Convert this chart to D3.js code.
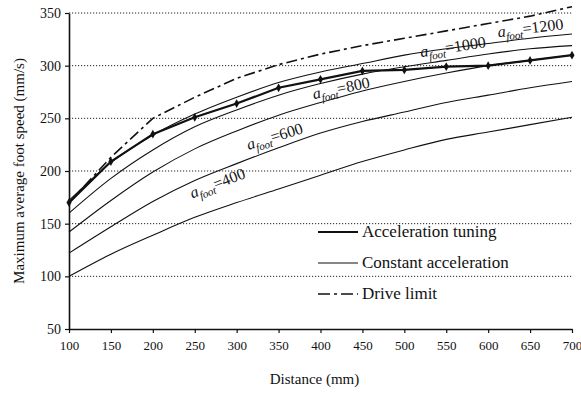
<!DOCTYPE html>
<html>
<head>
<meta charset="utf-8">
<script src="https://cdn.jsdelivr.net/npm/d3@7"></script>
<style>
  body { margin: 0; background: #fff; }
  svg { display: block; }
  svg text { font-family: "Liberation Serif", "Times New Roman", Times, "DejaVu Serif", serif; fill: #111; }
</style>
</head>
<body>
<div id="chart"></div>
<script>
var serif = "'Liberation Serif', 'Times New Roman', Times, 'DejaVu Serif', serif";

// distances (mm) at which the curves were read
var distance = [100, 150, 200, 250, 300, 350, 400, 450, 500, 550, 600, 650, 700];

// acceleration tuning (bold, with markers)
var tuning = [170, 209, 235, 251, 264, 279, 287, 295, 296, 299, 300, 305, 310];
// drive limit (dash-dot)
var driveLimit = [170, 213, 250, 270, 288, 301, 311, 319, 326, 333, 340, 347, 356];

// constant acceleration curves
var accel400 = [100, 121, 139, 156, 170, 183, 196, 209, 220, 230, 237, 244, 251];
var accel600 = [122, 147, 171, 191, 207, 222, 236, 247, 256, 265, 272, 279, 285];
var accel800 = [142, 172, 199, 221, 238, 253, 265, 276, 285, 293, 300, 305, 310];
var accel1000 = [160, 193, 220, 242, 258, 272, 283, 292, 299, 305, 311, 316, 319];
var accel1200 = [172, 208, 234, 254, 270, 284, 294, 302, 310, 316, 321, 326, 330];

var accelSeries = [accel400, accel600, accel800, accel1000, accel1200];

var xTicks = [100, 150, 200, 250, 300, 350, 400, 450, 500, 550, 600, 650, 700];
var yTicks = [50, 100, 150, 200, 250, 300, 350];
var legendLabels = ["Acceleration tuning", "Constant acceleration", "Drive limit"];

var W = 581, H = 393;
var margin = {top: 13, right: 9, bottom: 64, left: 69};
var width = W - margin.left - margin.right,
    height = H - margin.top - margin.bottom;

var svg = d3.select("#chart")
  .append("svg")
  .attr("width", W)
  .attr("height", H);

var g = svg.append("g")
  .attr("transform", "translate(" + margin.left + "," + margin.top + ")");

var x = d3.scaleLinear().domain([100, 700]).range([0, width]);
var y = d3.scaleLinear().domain([50, 350]).range([height, 0]);

// dotted grid lines
g.selectAll(".grid")
  .data(yTicks.slice(1))
  .enter()
  .append("line")
  .attr("class", "grid")
  .attr("x1", 0)
  .attr("x2", width)
  .attr("y1", d => y(d))
  .attr("y2", d => y(d))
  .style("stroke", "#222")
  .style("stroke-width", 1)
  .style("stroke-dasharray", "1.2,1.8");

// axes
var xAxis = g.append("g")
  .attr("transform", "translate(0," + height + ")")
  .call(d3.axisBottom(x).tickValues(xTicks).tickSize(4).tickSizeOuter(0).tickFormat(d3.format("d")));
var yAxis = g.append("g")
  .call(d3.axisLeft(y).tickValues(yTicks).tickSize(4).tickSizeOuter(0).tickFormat(d3.format("d")));

[xAxis, yAxis].forEach(function(a) {
  a.attr("font-family", null);
  a.select(".domain").style("stroke", "#111").style("stroke-width", 1.6);
  a.selectAll(".tick line").style("stroke", "#111").style("stroke-width", 1.2);
  a.selectAll(".tick text")
    .style("font-family", serif)
    .style("font-size", "13px")
    .style("fill", "#111");
});
xAxis.selectAll(".tick text").attr("dy", "1.05em");
yAxis.selectAll(".tick text").attr("dx", "-1px").style("font-size", "14px");

// axis titles
svg.append("text")
  .attr("x", margin.left + width / 2 - 6)
  .attr("y", 384)
  .attr("text-anchor", "middle")
  .style("font-family", serif)
  .style("font-size", "15px")
  .text("Distance (mm)");

svg.append("text")
  .attr("transform", "translate(24," + (margin.top + height / 2) + ") rotate(-90)")
  .attr("text-anchor", "middle")
  .style("font-family", serif)
  .style("font-size", "15px")
  .text("Maximum average foot speed (mm/s)");

// line generators
function pts(vals) {
  return distance.map(function(d, i) { return {d: d, v: vals[i]}; });
}
var smooth = d3.line()
  .x(p => x(p.d))
  .y(p => y(p.v))
  .curve(d3.curveMonotoneX);
var straight = d3.line()
  .x(p => x(p.d))
  .y(p => y(p.v));

// constant acceleration curves
g.selectAll(".accel")
  .data(accelSeries)
  .enter()
  .append("path")
  .attr("class", "accel")
  .attr("d", d => smooth(pts(d)))
  .style("fill", "none")
  .style("stroke", "#111")
  .style("stroke-width", 1.1);

// drive limit
g.append("path")
  .attr("d", straight(pts(driveLimit)))
  .style("fill", "none")
  .style("stroke", "#111")
  .style("stroke-width", 1.6)
  .style("stroke-dasharray", "11,4,3,4");

// acceleration tuning
g.append("path")
  .attr("d", straight(pts(tuning)))
  .style("fill", "none")
  .style("stroke", "#111")
  .style("stroke-width", 2.2);

g.selectAll(".marker")
  .data(pts(tuning))
  .enter()
  .append("path")
  .attr("class", "marker")
  .attr("transform", p => "translate(" + x(p.d) + "," + y(p.v) + ")")
  .attr("d", d3.symbol().type(d3.symbolDiamond).size(22))
  .style("fill", "#111");

// curve labels: [name, distance, value, angle]
var labelSpots = [
  ["400", 247, 174, -21],
  ["600", 314, 220, -17],
  ["800", 392, 268, -12],
  ["1000", 520, 308, -9],
  ["1200", 612, 327, -7]
];
labelSpots.forEach(function(s) {
  var t = g.append("text")
    .attr("transform", "translate(" + x(s[1]) + "," + y(s[2]) + ") rotate(" + s[3] + ")")
    .style("font-family", serif)
    .style("font-size", "16px");
  t.append("tspan").style("font-style", "italic").text("a");
  t.append("tspan").attr("dy", 4).style("font-style", "italic").style("font-size", "11px").text("foot");
  t.append("tspan").attr("dy", -4).text("=" + s[0]);
});

// legend
var legend = svg.append("g").attr("transform", "translate(318,232)");
var legendStyles = [
  {w: 2.2, dash: null},
  {w: 1.1, dash: null},
  {w: 1.6, dash: "12,4,3,4"}
];
legendLabels.forEach(function(lab, i) {
  var row = legend.append("g").attr("transform", "translate(0," + (i * 31) + ")");
  row.append("line")
    .attr("x1", 0).attr("x2", 40)
    .attr("y1", 0).attr("y2", 0)
    .style("stroke", "#111")
    .style("stroke-width", legendStyles[i].w)
    .style("stroke-dasharray", legendStyles[i].dash);
  row.append("text")
    .attr("x", 44)
    .attr("y", 5)
    .style("font-family", serif)
    .style("font-size", "17px")
    .text(lab);
});
</script>
</body>
</html>
